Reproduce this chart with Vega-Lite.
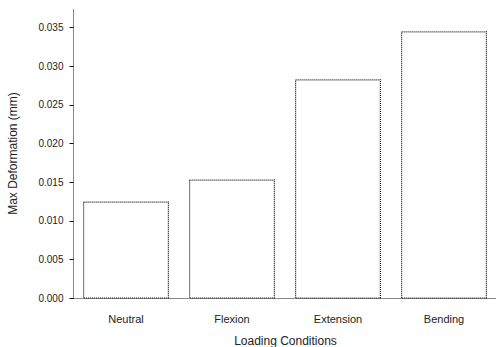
{
  "$schema": "https://vega.github.io/schema/vega-lite/v6.json",
  "autosize": "none",
  "padding": {"left": 73, "top": 8, "right": 0, "bottom": 49},
  "width": 424,
  "height": 290,
  "background": "white",
  "data": {"values": [
    {"condition": "Neutral", "value": 0.0124},
    {"condition": "Flexion", "value": 0.01525},
    {"condition": "Extension", "value": 0.0282},
    {"condition": "Bending", "value": 0.0344}
  ]},
  "mark": {"type": "bar", "fill": "white", "stroke": "#111", "strokeWidth": 1.2, "strokeDash": [1, 1]},
  "encoding": {
    "x": {"field": "condition", "type": "nominal", "sort": null,
      "scale": {"paddingInner": 0.2, "paddingOuter": 0.1},
      "axis": {"title": "Loading Conditions", "labelAngle": 0, "labelFontSize": 11, "titleFontSize": 12, "titleFontWeight": "normal", "labelColor": "#222", "titleColor": "#222", "domainDash": [1, 1], "domainColor": "#111", "ticks": false, "labelPadding": 15, "titlePadding": 11}},
    "y": {"field": "value", "type": "quantitative",
      "scale": {"domain": [0, 0.0375], "nice": false},
      "axis": {"title": "Max Deformation (mm)", "values": [0, 0.005, 0.01, 0.015, 0.02, 0.025, 0.03, 0.035], "format": ".3f", "grid": false, "labelFontSize": 10, "titleFontSize": 12, "titleFontWeight": "normal", "labelColor": "#222", "titleColor": "#222", "domainDash": [1, 1], "domainColor": "#111", "tickColor": "#111", "tickSize": 4, "labelPadding": 6, "titlePadding": 18}}
  },
  "config": {"view": {"stroke": null}}
}
